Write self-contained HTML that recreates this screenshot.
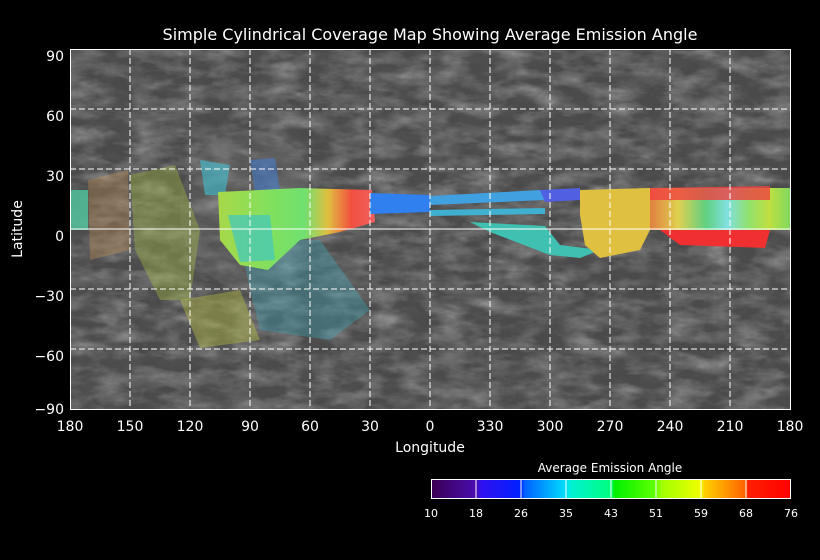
<!DOCTYPE html>
<html><head><style>
html,body{margin:0;background:#000;overflow:hidden;width:820px;height:560px;}
svg{display:block;}
svg text{font-family:"DejaVu Sans","Liberation Sans",sans-serif;fill:#fff;}
</style></head><body>
<svg width="820" height="560" viewBox="0 0 820 560" xmlns="http://www.w3.org/2000/svg">
<defs>
<filter id="tex" x="0" y="0" width="100%" height="100%">
<feTurbulence type="fractalNoise" baseFrequency="0.03 0.07" numOctaves="4" seed="3"/>
<feColorMatrix type="matrix" values="0 0 0 0 0.5  0 0 0 0 0.5  0 0 0 0 0.5  0.6 0.6 0.6 0 -0.75"/>
</filter>
<filter id="tex2" x="0" y="0" width="100%" height="100%">
<feTurbulence type="fractalNoise" baseFrequency="0.05 0.09" numOctaves="3" seed="8"/>
<feColorMatrix type="matrix" values="0 0 0 0 0.1  0 0 0 0 0.1  0 0 0 0 0.1  0.6 0.6 0.6 0 -0.8"/>
</filter>
<linearGradient id="cb" x1="0" x2="1">
<stop offset="0" stop-color="#3a0050"/><stop offset="0.125" stop-color="#4a0cb0"/>
<stop offset="0.14" stop-color="#3010f0"/><stop offset="0.25" stop-color="#0020ff"/>
<stop offset="0.26" stop-color="#0060ff"/><stop offset="0.375" stop-color="#00e0ff"/>
<stop offset="0.39" stop-color="#00f0d0"/><stop offset="0.5" stop-color="#00ff80"/>
<stop offset="0.51" stop-color="#00f000"/><stop offset="0.625" stop-color="#60ff00"/>
<stop offset="0.64" stop-color="#a0ff00"/><stop offset="0.75" stop-color="#f0ff00"/>
<stop offset="0.76" stop-color="#ffd000"/><stop offset="0.875" stop-color="#ff6000"/>
<stop offset="0.88" stop-color="#ff2000"/><stop offset="1" stop-color="#ff0000"/>
</linearGradient>
<linearGradient id="blob" x1="0" x2="1">
<stop offset="0" stop-color="#a8d84a"/><stop offset="0.35" stop-color="#80e060"/>
<stop offset="0.55" stop-color="#70e070"/><stop offset="0.7" stop-color="#e0c040"/>
<stop offset="0.85" stop-color="#f05040"/><stop offset="1" stop-color="#f06060"/>
</linearGradient>
<linearGradient id="band" x1="0" x2="1">
<stop offset="0" stop-color="#e08040"/><stop offset="0.2" stop-color="#e0d050"/>
<stop offset="0.4" stop-color="#60d080"/><stop offset="0.55" stop-color="#80e0e0"/>
<stop offset="0.7" stop-color="#90e070"/><stop offset="0.85" stop-color="#c0e040"/>
<stop offset="1" stop-color="#80d860"/>
</linearGradient>
</defs>
<rect x="70" y="49" width="720" height="360" fill="#4a4a4a"/>
<rect x="70" y="49" width="720" height="360" filter="url(#tex)"/>
<rect x="70" y="49" width="720" height="360" filter="url(#tex2)"/>
<ellipse cx="250" cy="210" rx="70" ry="80" fill="#777" opacity="0.25"/>
<!-- left scattered -->
<g>
<rect x="70" y="190" width="18" height="40" fill="#50c8a0" opacity="0.8"/>
<polygon points="88,180 128,170 130,250 90,260" fill="#d89850" opacity="0.3"/>
<polygon points="130,175 175,165 200,230 190,300 160,300 135,250" fill="#b0c840" opacity="0.35"/>
<polygon points="180,300 240,290 260,340 200,348" fill="#c0c840" opacity="0.4"/>
<polygon points="240,240 320,240 370,310 330,340 260,330 250,290" fill="#40b0c0" opacity="0.35"/>
<polygon points="200,160 230,165 225,195 205,195" fill="#40c0d0" opacity="0.6"/>
<polygon points="250,160 275,158 280,190 255,192" fill="#4080e0" opacity="0.5"/>
</g>
<!-- main blob -->
<polygon points="218,192 300,188 372,190 375,222 340,232 300,240 268,270 240,265 220,240" fill="url(#blob)"/>
<polygon points="228,215 270,215 275,260 240,262" fill="#40c8c0" opacity="0.7"/>
<!-- band -->
<polygon points="370,193 430,195 430,212 370,214" fill="#3080f0"/>
<polygon points="430,196 540,190 545,200 430,205" fill="#40a0e0"/>
<polygon points="430,210 545,208 545,214 430,216" fill="#40b0d0"/>
<polygon points="470,222 545,226 560,245 600,250 580,258 550,255 490,232" fill="#40c0b0"/>
<polygon points="540,190 580,188 580,200 545,202" fill="#5060e0"/>
<polygon points="580,190 650,188 650,230 640,250 600,258 585,245 580,215" fill="#e0c040"/>
<polygon points="650,188 790,188 790,230 650,230" fill="url(#band)"/>
<polygon points="650,188 770,186 770,200 650,200" fill="#f04040" opacity="0.8"/>
<polygon points="660,230 770,230 765,248 680,245" fill="#f03030"/>
<!-- grid -->
<g stroke="#fff" stroke-width="1" stroke-dasharray="6,3">
<line x1="130" y1="49" x2="130" y2="409"/><line x1="190" y1="49" x2="190" y2="409"/>
<line x1="250" y1="49" x2="250" y2="409"/><line x1="310" y1="49" x2="310" y2="409"/>
<line x1="370" y1="49" x2="370" y2="409"/><line x1="430" y1="49" x2="430" y2="409"/>
<line x1="490" y1="49" x2="490" y2="409"/><line x1="550" y1="49" x2="550" y2="409"/>
<line x1="610" y1="49" x2="610" y2="409"/><line x1="670" y1="49" x2="670" y2="409"/>
<line x1="730" y1="49" x2="730" y2="409"/>
<line x1="70" y1="109" x2="790" y2="109"/><line x1="70" y1="169" x2="790" y2="169"/>
<line x1="70" y1="289" x2="790" y2="289"/><line x1="70" y1="349" x2="790" y2="349"/>
</g>
<line x1="70" y1="229" x2="790" y2="229" stroke="#fff"/>
<rect x="70.5" y="49.5" width="720" height="360" fill="none" stroke="#fff"/>
<text x="430" y="40" font-size="16" text-anchor="middle">Simple Cylindrical Coverage Map Showing Average Emission Angle</text>
<g font-size="14" text-anchor="end">
<text x="64" y="61">90</text><text x="64" y="121">60</text><text x="64" y="181">30</text>
<text x="64" y="241">0</text><text x="64" y="301">−30</text><text x="64" y="361">−60</text><text x="64" y="414">−90</text>
</g>
<g font-size="14" text-anchor="middle">
<text x="70" y="431">180</text><text x="130" y="431">150</text><text x="190" y="431">120</text>
<text x="250" y="431">90</text><text x="310" y="431">60</text><text x="370" y="431">30</text>
<text x="430" y="431">0</text><text x="490" y="431">330</text><text x="550" y="431">300</text>
<text x="610" y="431">270</text><text x="670" y="431">240</text><text x="730" y="431">210</text>
<text x="790" y="431">180</text>
</g>
<text x="430" y="452" font-size="14" text-anchor="middle">Longitude</text>
<text transform="translate(22,229) rotate(-90)" font-size="14" text-anchor="middle">Latitude</text>
<text x="610" y="472" font-size="12" text-anchor="middle">Average Emission Angle</text>
<rect x="431" y="479" width="360" height="20" fill="url(#cb)"/>
<g stroke="#fff">
<line x1="476" y1="479" x2="476" y2="499"/><line x1="521" y1="479" x2="521" y2="499"/>
<line x1="566" y1="479" x2="566" y2="499"/><line x1="611" y1="479" x2="611" y2="499"/>
<line x1="656" y1="479" x2="656" y2="499"/><line x1="701" y1="479" x2="701" y2="499"/>
<line x1="746" y1="479" x2="746" y2="499"/>
<rect x="431.5" y="479.5" width="359" height="19" fill="none"/>
</g>
<g font-size="11" text-anchor="middle">
<text x="431" y="517">10</text><text x="476" y="517">18</text><text x="521" y="517">26</text>
<text x="566" y="517">35</text><text x="611" y="517">43</text><text x="656" y="517">51</text>
<text x="701" y="517">59</text><text x="746" y="517">68</text><text x="791" y="517">76</text>
</g>
</svg>
</body></html>
